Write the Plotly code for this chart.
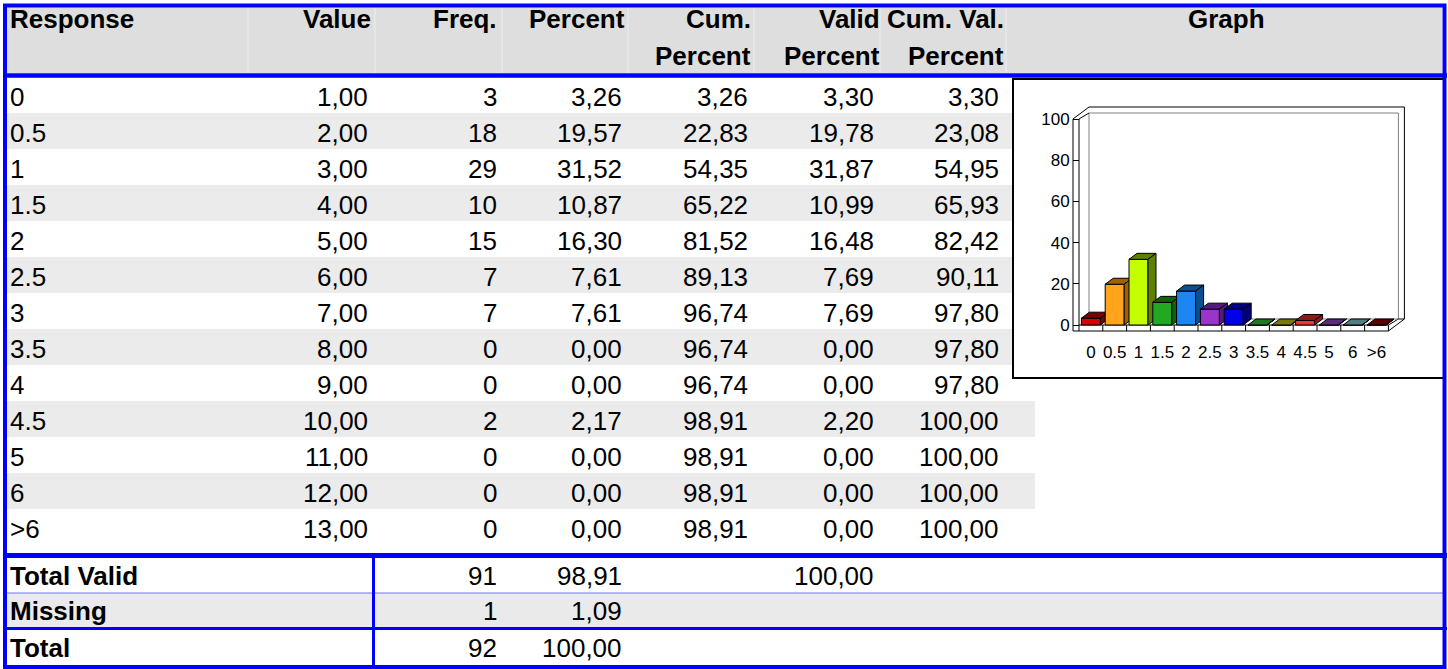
import plotly.graph_objects as go

# ---------------- data ----------------
responses = ["0", "0.5", "1", "1.5", "2", "2.5", "3", "3.5", "4", "4.5", "5", "6", ">6"]
values = [1, 2, 3, 4, 5, 6, 7, 8, 9, 10, 11, 12, 13]
freq = [3, 18, 29, 10, 15, 7, 7, 0, 0, 2, 0, 0, 0]
percent = [3.26, 19.57, 31.52, 10.87, 16.30, 7.61, 7.61, 0.00, 0.00, 2.17, 0.00, 0.00, 0.00]
cum_percent = [3.26, 22.83, 54.35, 65.22, 81.52, 89.13, 96.74, 96.74, 96.74, 98.91, 98.91, 98.91, 98.91]
valid_percent = [3.30, 19.78, 31.87, 10.99, 16.48, 7.69, 7.69, 0.00, 0.00, 2.20, 0.00, 0.00, 0.00]
cum_valid_percent = [3.30, 23.08, 54.95, 65.93, 82.42, 90.11, 97.80, 97.80, 97.80, 100.00, 100.00, 100.00, 100.00]

footer_labels = ["Total Valid", "Missing", "Total"]
footer_freq = [91, 1, 92]
footer_percent = [98.91, 1.09, 100.00]
footer_valid = [100.00, None, None]

y_ticks = [0, 20, 40, 60, 80, 100]

front_colors = ["#D80000", "#FFA41C", "#C4FF00", "#22A822", "#1C86F2", "#9A35C8", "#0000E8",
                "#2EB82E", "#B3B300", "#FF3030", "#8A4DB3", "#79B3B3", "#8B0000"]
dark_colors = ["#7A0000", "#9E6200", "#5E7F00", "#126012", "#0E4E8F", "#561C73", "#00007A",
               "#1E7A1E", "#7A7A00", "#8B1A1A", "#5B2C7A", "#4F7F7F", "#5A0000"]

# ---------------- page geometry ----------------
W, H = 1448, 669
def PX(x):
    return x / W
def PY(y):
    return 1 - y / H

BLUE = "#0000FF"
FONT = "Liberation Sans, Arial, sans-serif"
NARROW = "Liberation Sans Narrow, Arial Narrow, Liberation Sans, Arial, sans-serif"
FS = 26

ROW_TOP0, ROW_H = 77, 36
data_right = [368, 497, 622, 748, 874, 999]
head_right = [371, 497, 625, 751, 880, 1004]

shapes = []
annotations = []

def rect(x0, y0, x1, y1, fill=None, line=None, lw=0, layer="below"):
    d = dict(type="rect", xref="paper", yref="paper", x0=PX(x0), x1=PX(x1), y0=PY(y1), y1=PY(y0),
             layer=layer, line=dict(width=lw, color=line or "rgba(0,0,0,0)"))
    if fill:
        d["fillcolor"] = fill
    shapes.append(d)

def hline(y, x0, x1, w, color=BLUE):
    shapes.append(dict(type="line", xref="paper", yref="paper", x0=PX(x0), x1=PX(x1), y0=PY(y), y1=PY(y),
                       line=dict(color=color, width=w), layer="above"))

def vline(x, y0, y1, w, color=BLUE):
    shapes.append(dict(type="line", xref="paper", yref="paper", x0=PX(x), x1=PX(x), y0=PY(y0), y1=PY(y1),
                       line=dict(color=color, width=w), layer="above"))

def text(s, x, y, anchor="right", bold=False, size=FS):
    annotations.append(dict(text=("<b>%s</b>" % s) if bold else s, xref="paper", yref="paper",
                            x=PX(x), y=PY(y), xanchor=anchor, yanchor="middle", showarrow=False,
                            borderpad=0, borderwidth=0,
                            font=dict(family=FONT, size=size, color="black")))

def fmt(v):
    return ("%.2f" % v).replace(".", ",")

# header background
rect(7, 7, 1442, 73, fill="#DEDEDE")
for xs in [248, 375, 502, 628, 754, 880, 1006]:
    shapes.append(dict(type="line", xref="paper", yref="paper", x0=PX(xs), x1=PX(xs), y0=PY(7), y1=PY(73),
                       line=dict(color="#EEEEEE", width=1), layer="below"))

# body row bands
for i in range(len(responses)):
    if i % 2 == 1:
        rect(7, ROW_TOP0 + ROW_H * i, 1035, ROW_TOP0 + ROW_H * (i + 1), fill="#EBEBEB")

# missing row band
rect(7, 593, 1442, 628, fill="#EAEAEA")

# graph box
rect(1013, 79, 1444, 378, fill="white", line="black", lw=2)

# header texts
L1, L2 = 19, 56
text("Response", 10, L1, anchor="left", bold=True)
text("Value", head_right[0], L1, bold=True)
text("Freq.", head_right[1], L1, bold=True)
text("Percent", head_right[2], L1, bold=True)
text("Cum.", head_right[3], L1, bold=True)
text("Percent", head_right[3], L2, bold=True)
text("Valid", head_right[4], L1, bold=True)
text("Percent", head_right[4], L2, bold=True)
text("Cum. Val.", head_right[5], L1, bold=True)
text("Percent", head_right[5], L2, bold=True)
text("Graph", 1226, L1, anchor="center", bold=True)

# body texts
for i, r in enumerate(responses):
    yc = ROW_TOP0 + ROW_H * i + 20
    text(r, 10, yc, anchor="left")
    text(fmt(values[i]), data_right[0], yc)
    text(str(freq[i]), data_right[1], yc)
    text(fmt(percent[i]), data_right[2], yc)
    text(fmt(cum_percent[i]), data_right[3], yc)
    text(fmt(valid_percent[i]), data_right[4], yc)
    text(fmt(cum_valid_percent[i]), data_right[5], yc)

# footer texts
footer_y = [576, 611, 648]
for k, lab in enumerate(footer_labels):
    yc = footer_y[k]
    text(lab, 10, yc, anchor="left", bold=True)
    text(str(footer_freq[k]), data_right[1], yc)
    text(fmt(footer_percent[k]), data_right[2], yc)
    if footer_valid[k] is not None:
        text(fmt(footer_valid[k]), data_right[4], yc)

# blue rules
hline(75.5, 3, 1447, 4.5)
hline(555.5, 3, 1447, 5)
hline(593, 5, 1445, 1, color="#7070FF")
hline(628.5, 3, 1447, 3)
vline(373.5, 555, 667, 3)
shapes.append(dict(type="rect", xref="paper", yref="paper", x0=PX(5), x1=PX(1444.5), y0=PY(667), y1=PY(5.5),
                   line=dict(color=BLUE, width=4), layer="above"))

# ---------------- 3D bar chart ----------------
CAT_PX, VAL_PX = 23.8, 2.06
FLOOR_LEFT_PX, ZERO_PX = 1079, 325
DOM_X = (1060, 1420)
DOM_Y = (340, 100)  # bottom, top in px
x_range = [-0.5 + (DOM_X[0] - FLOOR_LEFT_PX) / CAT_PX, -0.5 + (DOM_X[1] - FLOOR_LEFT_PX) / CAT_PX]
y_range = [(ZERO_PX - DOM_Y[0]) / VAL_PX, (ZERO_PX - DOM_Y[1]) / VAL_PX]

n = len(responses)
X0, X1 = -0.5, n - 0.5
WT = 6 / CAT_PX      # wall thickness (cat units)
FT = 6 / VAL_PX      # floor thickness (value units)
DX = 16 / CAT_PX     # wall depth
DY = 12 / VAL_PX
YT = y_ticks[-1]

fig = go.Figure()

def poly(xs, ys, fill, lc="black", lw=1):
    fig.add_trace(go.Scatter(x=xs + [xs[0]], y=ys + [ys[0]], mode="lines", fill="toself",
                             fillcolor=fill, line=dict(color=lc, width=lw),
                             hoverinfo="skip", showlegend=False))

def pline(xs, ys, lc="black", lw=1):
    fig.add_trace(go.Scatter(x=xs, y=ys, mode="lines", line=dict(color=lc, width=lw),
                             hoverinfo="skip", showlegend=False))

# outer silhouette of walls + floor
poly([X0 - WT, X0 - WT, X0 - WT + DX, X1 + DX, X1 + DX, X1],
     [-FT, YT, YT + DY, YT + DY, -FT + DY, -FT], "white")
# back wall inner face
bx0, bx1 = X0 + DX - WT, X1 + DX - WT
by0, by1 = DY - FT, YT + DY - FT
pline([bx0, bx0, bx1, bx1], [by0, by1, by1, by0], lc="#808080")
# left wall inner edge
pline([X0, X0, bx0], [0, YT, by1])
# floor top face edges
pline([X0, X1, bx1], [0, 0, by0])
pline([bx0, bx1], [by0, by0], lc="#808080")
pline([bx1, X1 + DX], [by0, -FT + DY])
# floor front separators
for k in range(n + 1):
    pline([X0 + k, X0 + k], [-FT, 0])

# bars
HW = 9.5 / CAT_PX
BDX = 8 / CAT_PX
BDY = 6 / VAL_PX
for i, v in enumerate(valid_percent):
    xl, xr = i - HW, i + HW
    poly([xl, xr, xr, xl], [0, 0, v, v], front_colors[i])
    poly([xl, xr, xr + BDX, xl + BDX], [v, v, v + BDY, v + BDY], dark_colors[i])
    poly([xr, xr + BDX, xr + BDX, xr], [0, BDY, v + BDY, v], dark_colors[i])

fig.update_layout(
    width=W, height=H, margin=dict(l=0, r=0, t=0, b=0),
    paper_bgcolor="white", plot_bgcolor="rgba(0,0,0,0)",
    shapes=shapes, annotations=annotations, showlegend=False,
    xaxis=dict(domain=[PX(DOM_X[0]), PX(DOM_X[1])], range=x_range, showgrid=False, zeroline=False,
               showline=False, ticks="", tickmode="array", tickvals=list(range(n)), ticktext=responses,
               tickfont=dict(family=NARROW, size=17, color="black"), fixedrange=True),
    yaxis=dict(domain=[PY(DOM_Y[0]), PY(DOM_Y[1])], range=y_range, showgrid=False, zeroline=False,
               showline=False, anchor="free", position=PX(FLOOR_LEFT_PX), ticks="outside", ticklen=6,
               tickcolor="black", tickwidth=1, tickmode="array", tickvals=y_ticks,
               tickfont=dict(family=NARROW, size=17, color="black"), fixedrange=True),
)

fig.write_html("out.html", config={"displayModeBar": False},
               post_script="document.body.style.margin='0';document.body.style.overflow='hidden';")
